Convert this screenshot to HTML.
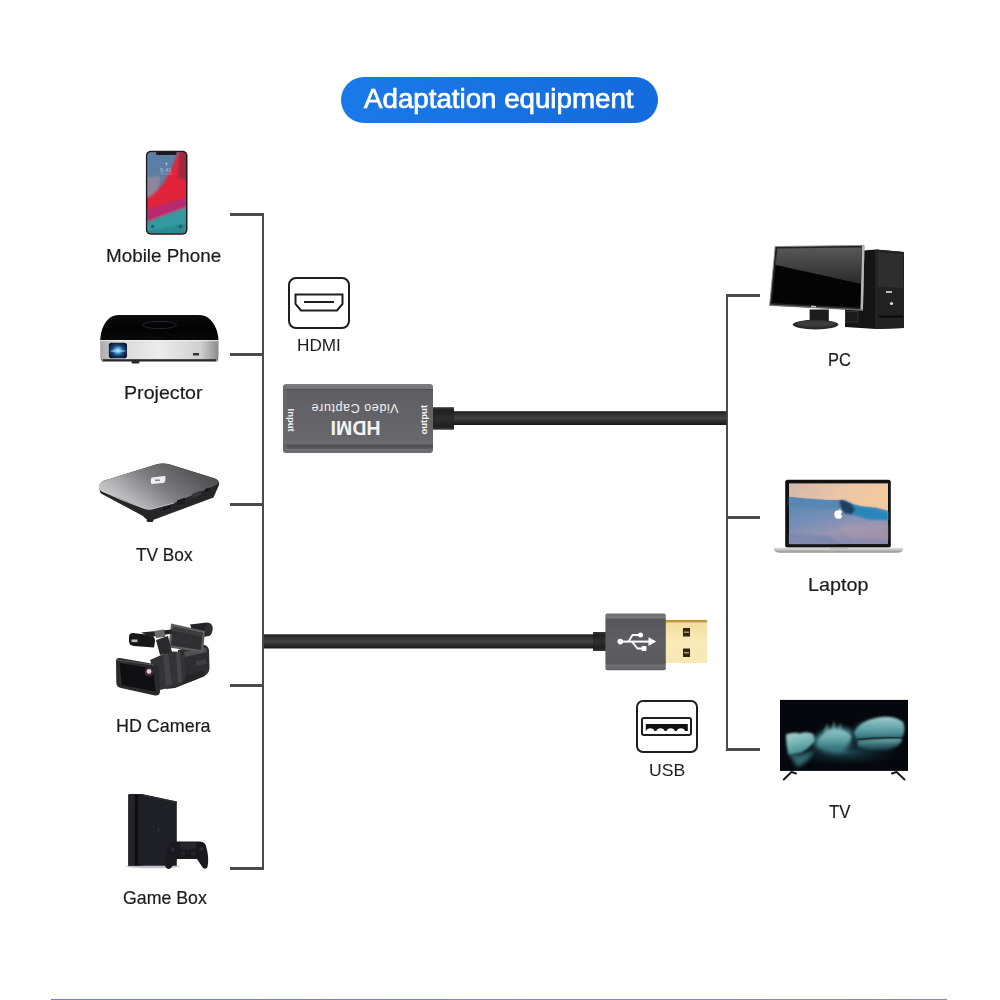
<!DOCTYPE html>
<html><head><meta charset="utf-8">
<style>
html,body{margin:0;padding:0;background:#fff;}
body{width:1000px;height:1000px;position:relative;overflow:hidden;font-family:"Liberation Sans",sans-serif;}
.a{position:absolute;}
.ln{position:absolute;background:#4b4b4b;}
.lbl{position:absolute;color:#1c1c1c;-webkit-text-stroke:0.2px #1c1c1c;font-size:18.5px;line-height:20px;white-space:nowrap;}
svg{position:absolute;overflow:visible;}
</style></head>
<body>
<!-- title pill -->
<div class="a" style="left:341px;top:77px;width:317px;height:46px;border-radius:23px;background:linear-gradient(90deg,#1a79e8,#146bdb);"></div>
<div class="a" id="title" style="-webkit-text-stroke:0.7px #fff;left:364.40px;top:84.00px;color:#fff;font-size:27px;line-height:30px;white-space:nowrap;letter-spacing:0px;transform:scaleX(1.0259);transform-origin:0 0;">Adaptation equipment</div>

<!-- left bracket -->
<div class="ln" style="left:230px;top:213px;width:34px;height:3px;"></div>
<div class="ln" style="left:261.5px;top:213px;width:2.5px;height:657px;"></div>
<div class="ln" style="left:230px;top:353px;width:34px;height:3px;"></div>
<div class="ln" style="left:230px;top:503px;width:34px;height:3px;"></div>
<div class="ln" style="left:230px;top:684px;width:34px;height:3px;"></div>
<div class="ln" style="left:230px;top:867px;width:34px;height:3px;"></div>

<!-- right bracket -->
<div class="ln" style="left:726px;top:294px;width:34px;height:2.5px;"></div>
<div class="ln" style="left:726px;top:294px;width:2.2px;height:457px;"></div>
<div class="ln" style="left:726px;top:516px;width:34px;height:2.5px;"></div>
<div class="ln" style="left:726px;top:748px;width:34px;height:3px;"></div>

<!-- labels -->
<div class="lbl" id="l1" style="left:106.21px;top:245.50px;font-size:19px;transform:scaleX(0.9913);transform-origin:0 0;letter-spacing:0px;">Mobile Phone</div>
<div class="lbl" id="l2" style="left:123.87px;top:382.50px;font-size:19px;transform:scaleX(1.0333);transform-origin:0 0;letter-spacing:0px;">Projector</div>
<div class="lbl" id="l3" style="left:136.40px;top:544.70px;font-size:19px;transform:scaleX(0.9081);transform-origin:0 0;letter-spacing:0px;">TV Box</div>
<div class="lbl" id="l4" style="left:115.96px;top:715.70px;font-size:19px;transform:scaleX(0.9430);transform-origin:0 0;letter-spacing:0px;">HD Camera</div>
<div class="lbl" id="l5" style="left:122.70px;top:887.50px;font-size:19px;transform:scaleX(0.9344);transform-origin:0 0;letter-spacing:0px;">Game Box</div>
<div class="lbl" id="r1" style="left:827.54px;top:350.20px;font-size:19px;transform:scaleX(0.8640);transform-origin:0 0;letter-spacing:0px;">PC</div>
<div class="lbl" id="r2" style="left:808.16px;top:575.00px;font-size:19px;transform:scaleX(1.0386);transform-origin:0 0;letter-spacing:0px;">Laptop</div>
<div class="lbl" id="r3" style="left:828.80px;top:802.40px;font-size:19px;transform:scaleX(0.8833);transform-origin:0 0;letter-spacing:0px;">TV</div>

<!-- HDMI icon -->
<div class="a" style="left:288px;top:277px;width:58px;height:48px;border:2px solid #1e1e1e;border-radius:8px;"></div>
<svg style="left:0;top:0;" width="1000" height="1000">
  <path d="M295.5 294.5 H342.5 V304 L337 310.5 H301 L295.5 304 Z" fill="none" stroke="#1e1e1e" stroke-width="2"/>
  <line x1="304" y1="302" x2="334" y2="302" stroke="#1e1e1e" stroke-width="2"/>
</svg>
<div class="a" id="hdmitxt" style="left:296.50px;top:337.40px;color:#1e1e1e;font-size:17px;line-height:18px;transform:scaleX(1.0093);transform-origin:0 0;letter-spacing:0px;">HDMI</div>

<!-- USB icon -->
<div class="a" style="left:636px;top:700px;width:58px;height:49px;border:2px solid #1e1e1e;border-radius:7px;"></div>
<div class="a" style="left:641px;top:717px;width:47px;height:15px;border:2px solid #1e1e1e;border-radius:3px;"></div>
<svg style="left:0;top:0;" width="1000" height="1000">
  <path d="M645.8 724 H687.8 V731 H685 A4.2 3.6 0 0 0 676.8 731 H674.8 A4.2 3.6 0 0 0 666.6 731 H664.6 A4.2 3.6 0 0 0 656.4 731 H654.4 A4.2 3.6 0 0 0 646.2 731 H645.8 Z" fill="#111"/>
</svg>
<div class="a" id="usbtxt" style="left:648.80px;top:760.50px;color:#1e1e1e;font-size:17px;line-height:19px;transform:scaleX(1.0353);transform-origin:0 0;letter-spacing:0px;">USB</div>



<!-- devices -->
<svg style="left:0;top:0;" width="1000" height="1000">
  <defs>
    <filter id="b1" x="-20%" y="-20%" width="140%" height="140%"><feGaussianBlur stdDeviation="1.2"/></filter>
    <filter id="b2" x="-30%" y="-30%" width="160%" height="160%"><feGaussianBlur stdDeviation="2.2"/></filter>
    <filter id="b05"><feGaussianBlur stdDeviation="0.5"/></filter>
    <clipPath id="phclip"><rect x="147.4" y="152.2" width="38.6" height="81" rx="4"/></clipPath>
    <linearGradient id="phbase" x1="0" y1="0" x2="0" y2="1">
      <stop offset="0" stop-color="#4d7aa2"/>
      <stop offset="0.25" stop-color="#6f84a0"/>
      <stop offset="0.42" stop-color="#b87888"/>
      <stop offset="0.55" stop-color="#e3263a"/>
      <stop offset="0.68" stop-color="#e01e34"/>
      <stop offset="0.78" stop-color="#a83070"/>
      <stop offset="0.86" stop-color="#37989e"/>
      <stop offset="1" stop-color="#2b8790"/>
    </linearGradient>
    <linearGradient id="prtop" x1="0" y1="0" x2="0" y2="1">
      <stop offset="0" stop-color="#0c0c0c"/>
      <stop offset="0.5" stop-color="#020202"/>
      <stop offset="1" stop-color="#0a0a0a"/>
    </linearGradient>
    <linearGradient id="prfront" x1="0" y1="0" x2="1" y2="0">
      <stop offset="0" stop-color="#a9a9a9"/>
      <stop offset="0.15" stop-color="#d8d8d8"/>
      <stop offset="0.5" stop-color="#ececec"/>
      <stop offset="0.85" stop-color="#d0d0d0"/>
      <stop offset="1" stop-color="#8a8a8a"/>
    </linearGradient>
    <radialGradient id="lens" cx="0.5" cy="0.5" r="0.6">
      <stop offset="0" stop-color="#e8f8ff"/>
      <stop offset="0.2" stop-color="#6ac0f0"/>
      <stop offset="0.55" stop-color="#1c4478"/>
      <stop offset="1" stop-color="#0a1020"/>
    </radialGradient>
    <linearGradient id="tbtop" x1="0" y1="0.7" x2="1" y2="0.2">
      <stop offset="0" stop-color="#d0d0d2"/>
      <stop offset="0.2" stop-color="#b4b4b6"/>
      <stop offset="0.5" stop-color="#7c7c7e"/>
      <stop offset="0.8" stop-color="#5a5a5c"/>
      <stop offset="1" stop-color="#48484a"/>
    </linearGradient>
    <linearGradient id="mon" x1="0" y1="0" x2="0" y2="1">
      <stop offset="0" stop-color="#585858"/>
      <stop offset="1" stop-color="#2a2a2a"/>
    </linearGradient>
    <linearGradient id="sky" x1="0" y1="0" x2="0" y2="1">
      <stop offset="0" stop-color="#d8b8a8"/>
      <stop offset="1" stop-color="#f2c9a0"/>
    </linearGradient>
    <linearGradient id="sea" x1="0" y1="0" x2="0" y2="1">
      <stop offset="0" stop-color="#4f86b0"/>
      <stop offset="0.35" stop-color="#6a88a8"/>
      <stop offset="0.7" stop-color="#8c8aa8"/>
      <stop offset="1" stop-color="#7c86a6"/>
    </linearGradient>
    <linearGradient id="lbase" x1="0" y1="0" x2="0" y2="1">
      <stop offset="0" stop-color="#e8e8e8"/>
      <stop offset="1" stop-color="#8e8e8e"/>
    </linearGradient>
  </defs>

  <!-- phone -->
  <rect x="145.9" y="150.7" width="41.6" height="84" rx="5" fill="#1c1a1e"/>
  <g clip-path="url(#phclip)">
    <rect x="147" y="152" width="40" height="82" fill="#e2243a"/>
    <g filter="url(#b1)">
      <path d="M144 148 L180 148 L172 168 L162 185 L150 196 L144 198 Z" fill="#5a7ea4"/>
      <path d="M144 178 L160 176 L158 190 L150 197 L144 199 Z" fill="#9a8a9c" opacity="0.8"/>
      <path d="M180 148 L192 148 L192 180 L178 178 Z" fill="#8e2a3e" opacity="0.85"/>
      <path d="M144 210 L192 196 L192 206 L144 222 Z" fill="#b02a78" opacity="0.85"/>
      <path d="M144 223 L192 205 L192 240 L144 240 Z" fill="#339aa0"/>
      <path d="M144 232 L192 222 L192 240 L144 240 Z" fill="#2a8a92"/>
    </g>
  </g>
  <rect x="156" y="151.5" width="20.6" height="3.4" rx="1.5" fill="#1c1a1e"/>
  <circle cx="166.5" cy="163.8" r="1" fill="#e8e8f0" opacity="0.7"/>
  <text x="160" y="171.5" font-family="Liberation Sans, sans-serif" font-size="6" fill="#e6e6f0" opacity="0.6">9:41</text>
  <rect x="160" y="173.5" width="13" height="0.8" fill="#ddd" opacity="0.4"/>
  <circle cx="152.5" cy="226.5" r="1.8" fill="#1d4a55" opacity="0.7"/>
  <circle cx="180.5" cy="226.5" r="1.8" fill="#1d4a55" opacity="0.7"/>

  <!-- projector -->
  <path d="M100.2 340.5 C100.5 330 105 319.5 112.5 316.2 Q115.5 315 120 315 L198 315 Q202.5 315 205.5 316.2 C213 319.5 218.2 330 218.5 340.5 Z" fill="url(#prtop)"/>
  <ellipse cx="159.5" cy="325" rx="17" ry="3.6" fill="none" stroke="#1f2a32" stroke-width="1"/>
  <path d="M100.2 340 L218.5 340 L218.5 357 Q218.5 360.5 215 360.5 L104 360.5 Q100.2 360.5 100.2 357 Z" fill="url(#prfront)"/>
  <rect x="100.2" y="340" width="118.3" height="1.2" fill="#f4f4f4" opacity="0.7"/>
  <path d="M101 358.8 Q102 361.5 105 361.5 L214 361.5 Q217 361.5 218 358.8 L218 360 Q217 362 214 362 L105 362 Q102 362 101 360 Z" fill="#1e1e1e"/>
  <rect x="103" y="359.2" width="113" height="1.8" fill="#2a2a2a"/>
  <rect x="108.8" y="342.8" width="18.2" height="15.4" rx="2.8" fill="url(#lens)"/>
  <ellipse cx="118" cy="351" rx="8" ry="1.2" fill="#9ee0ff" opacity="0.6" filter="url(#b05)"/>
  <rect x="193" y="353" width="6" height="2.5" fill="#333"/>
  <rect x="131.5" y="361" width="8" height="2.5" rx="1" fill="#2a2a2a"/>

  <!-- tv box -->
  <path d="M99.5 489 Q98 485 103 481 L156 464.5 Q163 462.5 170 464.5 L215 478.5 Q220 481 219 485 L213.5 497.5 L153 520 Q148 522 143 516 L101 493.5 Q99.8 492 99.5 489 Z" fill="#262628"/>
  <path d="M98.8 487.5 Q98.5 484 103 481 L156 464.5 Q163 462.5 170 464.5 L215 478.5 Q220 481 217.5 484.5 L174 503 L152 509 Q148 510 143 508 L102 491.5 Q98.8 490 98.8 487.5 Z" fill="url(#tbtop)"/>
  <path d="M101 490.5 Q120 500 143 508 Q148 510 152 509 L174 503" fill="none" stroke="#d6d6d8" stroke-width="1" opacity="0.8"/>
  <path d="M152 477.5 L164 476 Q166 476 165.5 478 L165 481.5 Q164.5 483 162.5 483 L152.5 484 Q150.5 484 150.8 482 L151 479 Q151 477.6 152 477.5 Z" fill="#efefef"/>
  <rect x="155" y="479.5" width="5" height="1.5" fill="#888"/>
  <path d="M177 500.5 L185 497.5 L185.5 502.5 L177.5 505.5 Z" fill="#1a1a1a"/>
  <path d="M192 494 L201 490.5 L201.5 494.5 L192.5 498 Z" fill="#38383a"/>
  <path d="M205 489 L209 487.5 L209.5 490.5 L205.5 492 Z" fill="#151515"/>
  <path d="M163 508.5 L171 505.5 L171.3 507.3 L163.3 510.3 Z" fill="#101010"/>
  <ellipse cx="150" cy="520.5" rx="3.5" ry="1.6" fill="#222"/>

  <!-- camera -->
  <g>
    <!-- body right -->
    <path d="M178 650 L200 645 Q208 644 209 650 L209.5 668 Q209 674 204 676 L190 682 L176 684 Z" fill="#2e2e30"/>
    <path d="M184 652 L206 647.5 L207 652 L185 657 Z" fill="#505052"/>
    <path d="M196 661 L206 659 L206.5 664 L196.5 666 Z" fill="#444446" opacity="0.8"/>
    <!-- bottom plate -->
    <path d="M168 680 L203 670 L205 676 L175 688 L166 689 Z" fill="#262628"/>
    <!-- lens barrel -->
    <path d="M150 660 L168 652 Q180 650 184 656 L186 676 Q185 684 176 686 L160 690 Z" fill="#333335"/>
    <path d="M163 655 L168 653 L172 684 L166 686 Z" fill="#424244"/>
    <path d="M176 652 L180 651.5 L182 682 L178 683 Z" fill="#4a4a4c" opacity="0.8"/>
    <!-- hood -->
    <path d="M116 661 Q116 657.5 120 658 L154 664 Q158 665 159 668 L160 691 Q160 696 155 695.5 L121 688 Q116.5 687 116.3 683 Z" fill="#2a2a2c"/>
    <path d="M119.5 663 L153 668.5 L155.5 691.5 L122 685 Z" fill="#0f0f11"/>
    <path d="M117 660 L154 665" stroke="#5a5a5c" stroke-width="1"/>
    <circle cx="149" cy="672" r="4.5" fill="#3b2d36"/>
    <circle cx="149" cy="671.5" r="2.4" fill="#e8c8d8" filter="url(#b05)"/>
    <!-- eyepiece -->
    <path d="M190 624.5 L207 622.5 Q213 623 212.5 629 L209 636 L195 638 Z" fill="#222224"/>
    <ellipse cx="208.5" cy="629.5" rx="4" ry="6.5" fill="#2e2e30"/>
    <!-- lcd -->
    <path d="M171 623.5 L205 631 L203 652.5 L168.5 647.5 Z" fill="#5e5e60"/>
    <path d="M173 626.5 L202.5 633 L200.8 650 L171 645.5 Z" fill="#303032"/>
    <path d="M173 626.5 L202.5 633 L202.1 637 L172.6 630.5 Z" fill="#3c3c3e"/>
    <!-- handle -->
    <path d="M133 633 L150 635 Q155 636 155 641 L154 647.5 L134 646 Q129 645.5 129 641 L129 637 Q129 633 133 633 Z" fill="#18181a"/>
    <rect x="131.5" y="639.5" width="6" height="2.6" fill="#b8b8b8"/>
    <path d="M141 632.5 L172 629.5 L173 633.5 L150 637 Z" fill="#222224"/>
    <path d="M154 631 L164 629.5 L165.5 637 L156 638 Z" fill="#6a6a6c"/>
    <path d="M156 640 L168 636 L172 652 L160 655 Z" fill="#2a2a2c"/>
  </g>

  <!-- ps4 -->
  <ellipse cx="153" cy="866.5" rx="27" ry="1.8" fill="#c4c4c8" filter="url(#b05)"/>
  <path d="M129.5 794 L141.5 794 L176.8 801.5 L176.8 865.8 L128.3 865.8 L128.3 795.5 Q128.3 794 129.5 794 Z" fill="#1f1f26"/>
  <rect x="128.3" y="794.5" width="6.5" height="71.3" fill="#24242b"/>
  <rect x="134.8" y="794.5" width="3" height="71.3" fill="#0c0c10"/>
  <rect x="137.8" y="794.5" width="3.6" height="71.3" fill="#1d1d23"/>
  <path d="M141.4 794 L176.8 801.5 L176.8 803 L141.4 795.5 Z" fill="#2e2e36"/>
  <path d="M158 827 L160 828 L158.5 832 L157 831 Z" fill="#2e2e36"/>
  <path d="M169.5 843.5 Q171 841.5 175 841.5 L200 841.5 Q205 841.8 206 846 Q209.5 858 207.5 867 Q206 870 203 868 L197 859 L177 859 L171 868 Q167.5 870.5 165.5 867 Q164 856 169.5 843.5 Z" fill="#19191e"/>
  <rect x="180" y="842.5" width="16" height="7" rx="1.5" fill="#26262d"/>
  <circle cx="173" cy="849.5" r="2.2" fill="#2a2a31"/>
  <circle cx="201.5" cy="849" r="2.2" fill="#2a2a31"/>
  <circle cx="183" cy="853.5" r="2.4" fill="#24242a"/>
  <circle cx="193" cy="853.5" r="2.4" fill="#24242a"/>

  <!-- pc -->
  <path d="M845 252 L876 249.5 L904 252 L904 328 L876 329 L845 327 Z" fill="#151515"/>
  <path d="M876 249.5 L904 252 L904 328 L876 329 Z" fill="#222"/>
  <path d="M878 252 L903 254 L903 288 L878 286.5 Z" fill="#2e2e2e"/>
  <rect x="886" y="291" width="6" height="2" fill="#bbb"/>
  <circle cx="891.5" cy="303.5" r="1.6" fill="#ddd"/>
  <rect x="879" y="315.5" width="24" height="2.2" fill="#0a0a0a"/>
  <path d="M845.5 311.5 L858 311.5 L858 322 L845.5 322 Z" fill="#1a1a1a" stroke="#3a3a3a" stroke-width="0.8"/>
  <path d="M876 250 L876 329" stroke="#333" stroke-width="0.8"/>
  <path d="M775.2 246.5 L864 245.4 L862.4 310.2 L769.6 305.4 Z" fill="#222" stroke="#8a8a8a" stroke-width="0.9"/>
  <path d="M862 245.4 L864.5 245.4 L863 310.2 L860.5 310 Z" fill="#b8b8b8"/>
  <path d="M777.5 248.5 L861.5 247.5 L861 284 L775.5 265 Z" fill="url(#mon)"/>
  <path d="M775.5 265 L861 284 L860 307.5 L772 303 Z" fill="#040404"/>
  <path d="M769.6 305 L862.4 309.8" stroke="#6c6c6c" stroke-width="1"/>
  <rect x="811" y="305.8" width="5" height="1.3" fill="#ccc" transform="rotate(3 813 306.5)"/>
  <rect x="809.6" y="309.5" width="19.2" height="12.5" fill="#1c1c1c"/>
  <ellipse cx="815.6" cy="324.6" rx="22.8" ry="4.8" fill="#2a2a2a"/>
  <ellipse cx="815.6" cy="323.6" rx="20" ry="3" fill="#3c3c3c"/>

  <!-- laptop -->
  <rect x="785.2" y="479.7" width="105.6" height="68" rx="2.5" fill="#111"/>
  <svg x="789" y="483.6" width="99" height="60.5" viewBox="0 0 99 60.5" overflow="hidden">
    <defs>
      <linearGradient id="lsky" x1="0" y1="0" x2="1" y2="0.3">
        <stop offset="0" stop-color="#d4b8ac"/>
        <stop offset="0.6" stop-color="#ecc6a6"/>
        <stop offset="1" stop-color="#f2c89e"/>
      </linearGradient>
      <linearGradient id="lsea" x1="0" y1="0" x2="0.4" y2="1">
        <stop offset="0" stop-color="#4a82b2"/>
        <stop offset="0.35" stop-color="#5e8ab6"/>
        <stop offset="0.65" stop-color="#7c90b6"/>
        <stop offset="0.85" stop-color="#9a96b2"/>
        <stop offset="1" stop-color="#8a8cae"/>
      </linearGradient>
    </defs>
    <rect x="0" y="0" width="99" height="60.5" fill="url(#lsea)"/>
    <path d="M0 0 H99 V27.5 L87.5 24.2 L71 22.6 L62 19.8 L54.5 16.5 L38 16.5 L16 14.9 L0 13.2 Z" fill="url(#lsky)"/>
    <g filter="url(#b1)">
      <path d="M62 20.5 L71 23 L87.5 24.8 L99 28 V37 L80 36 L66 32 L60 27 Z" fill="#2a86ba"/>
      <path d="M50 17 L55 16.8 L62 20 L66 26 L63 31 L56 30 L51 24 Z" fill="#1f3f5e"/>
      <path d="M0 14 L16 15.5 L38 17 L50 17.5 L52 24 L40 26 L20 24 L0 22 Z" fill="#5487b2" opacity="0.8"/>
      <path d="M50 44 L99 41 V56 L62 55 Z" fill="#b49aa8" opacity="0.5"/>
      <path d="M0 50 L40 52 L50 60.5 H0 Z" fill="#6a80aa" opacity="0.5"/>
    </g>
    <path d="M47.5 27.2 Q49.3 26.4 50.2 27 Q51 26.3 52.4 27 Q53.4 27.8 53 28.7 Q51.8 29.3 52 31 Q52.3 32.3 53.2 32.6 Q52.4 35 51 35.2 Q50.2 35.2 49.6 34.8 Q48.8 35.2 48 35.2 Q46.6 35 45.6 32.5 Q44.6 29.4 46 27.8 Q46.6 27.2 47.5 27.2 Z M50 26.6 Q50 25 51.8 24.6 Q51.8 26.3 50 26.6 Z" fill="#fff"/>
  </svg>
  <path d="M774 547.5 L903 547.5 Q903.5 550 902 551.5 Q900 552.8 896 552.8 L781 552.8 Q777 552.8 775.2 551.5 Q773.6 550 774 547.5 Z" fill="url(#lbase)"/>
  <rect x="830" y="547.6" width="18" height="1.4" fill="#aaa" opacity="0.6"/>

  <!-- tv -->
  <rect x="780" y="699.9" width="128" height="71" fill="#04070b"/>
  <svg x="780" y="699.9" width="128" height="71" viewBox="780 699.9 128 71" overflow="hidden">
    <defs>
      <radialGradient id="tvglow" cx="0.5" cy="0.5" r="0.5">
        <stop offset="0" stop-color="#2a6070" stop-opacity="0.9"/>
        <stop offset="1" stop-color="#0a1820" stop-opacity="0"/>
      </radialGradient>
      <linearGradient id="leafA" x1="0" y1="0" x2="0.3" y2="1">
        <stop offset="0" stop-color="#a4d2d0"/>
        <stop offset="0.5" stop-color="#78b6b6"/>
        <stop offset="1" stop-color="#3e8a90"/>
      </linearGradient>
      <linearGradient id="leafB" x1="0" y1="0" x2="0" y2="1">
        <stop offset="0" stop-color="#9ccccc"/>
        <stop offset="0.6" stop-color="#5c9ea2"/>
        <stop offset="1" stop-color="#2e6e78"/>
      </linearGradient>
      <linearGradient id="leafC" x1="0" y1="0" x2="0" y2="1">
        <stop offset="0" stop-color="#78b8b8"/>
        <stop offset="1" stop-color="#1e5060" stop-opacity="0.3"/>
      </linearGradient>
    </defs>
    <ellipse cx="845" cy="752" rx="62" ry="16" fill="url(#tvglow)" opacity="0.85"/>
    <g filter="url(#b2)">
      <path d="M814 738 Q830 720 852 730 Q856 744 842 752 Q824 754 814 746 Z" fill="#4a98a0" opacity="0.75"/>
      <path d="M855 726 Q878 714 903 722 Q906 738 890 748 Q868 752 856 744 Z" fill="#4f9aa0" opacity="0.4"/>
      <path d="M788 752 Q800 758 814 750 Q808 764 797 767 Z" fill="#4a9098" opacity="0.7"/>
    </g>
    <g filter="url(#b1)">
      <path d="M786 734.5 Q793 731.5 800 733.5 Q807 731 813.5 734 L815 740.6 Q810 748 801.8 752.4 L788.6 755 Q786 746 786 734.5 Z" fill="url(#leafA)"/>
      <path d="M818 740 Q825 730 834 729 Q846 729 851 736 Q850 745 838 749 Q825 750 818 745 Z" fill="url(#leafB)" opacity="0.95"/>
      <path d="M823 733 L827 723 L830 731 L834 721 L837 730 L841 723 L842 732 Z" fill="#7ab4b6" opacity="0.55"/>
      <path d="M854 732 Q862 720 876 718 Q892 714 903 722 Q906 731 902 737 Q880 736 856 739 Z" fill="url(#leafB)"/>
      <path d="M858 741 Q876 738.5 902 738.5 Q901 748 886 750 Q868 751 858 746 Z" fill="url(#leafC)"/>
    </g>
    <path d="M857 739.5 Q880 737 903 737.8" stroke="#14262e" stroke-width="1.3" fill="none" opacity="0.85"/>
  </svg>
  <g stroke="#1a1a1a" stroke-width="2" stroke-linecap="round" fill="none">
    <polyline points="783.8,779.5 791.5,772 796,773.5"/>
    <polyline points="892,773.5 896.5,772 904.5,779.5"/>
  </g>
</svg>

<!-- cables & adapters -->
<svg style="left:0;top:0;" width="1000" height="1000">
  <defs>
    <linearGradient id="cab" x1="0" y1="0" x2="0" y2="1">
      <stop offset="0" stop-color="#1b1b1b"/>
      <stop offset="0.2" stop-color="#2e2e2e"/>
      <stop offset="0.5" stop-color="#434343"/>
      <stop offset="0.75" stop-color="#2c2c2c"/>
      <stop offset="1" stop-color="#161616"/>
    </linearGradient>
    <linearGradient id="relief" x1="0" y1="0" x2="0" y2="1">
      <stop offset="0" stop-color="#3a3a3a"/>
      <stop offset="0.15" stop-color="#1f1f1f"/>
      <stop offset="0.5" stop-color="#2e2e2e"/>
      <stop offset="0.85" stop-color="#1f1f1f"/>
      <stop offset="1" stop-color="#383838"/>
    </linearGradient>
    <linearGradient id="adp" x1="0" y1="0" x2="0" y2="1">
      <stop offset="0" stop-color="#7c7c80"/>
      <stop offset="0.065" stop-color="#76767a"/>
      <stop offset="0.075" stop-color="#4e4e52"/>
      <stop offset="0.1" stop-color="#5f5f63"/>
      <stop offset="0.5" stop-color="#646468"/>
      <stop offset="0.82" stop-color="#68686c"/>
      <stop offset="0.86" stop-color="#6f6f73"/>
      <stop offset="0.89" stop-color="#505054"/>
      <stop offset="0.93" stop-color="#58585c"/>
      <stop offset="0.95" stop-color="#707074"/>
      <stop offset="1" stop-color="#6a6a6e"/>
    </linearGradient>
    <linearGradient id="usbh" x1="0" y1="0" x2="0" y2="1">
      <stop offset="0" stop-color="#6e6e72"/>
      <stop offset="0.07" stop-color="#7a7a7e"/>
      <stop offset="0.1" stop-color="#58585c"/>
      <stop offset="0.5" stop-color="#5e5e62"/>
      <stop offset="0.88" stop-color="#5a5a5e"/>
      <stop offset="0.92" stop-color="#737377"/>
      <stop offset="1" stop-color="#5c5c60"/>
    </linearGradient>
    <linearGradient id="gold" x1="0" y1="0" x2="0" y2="1">
      <stop offset="0" stop-color="#b08a30"/>
      <stop offset="0.04" stop-color="#c8a048"/>
      <stop offset="0.08" stop-color="#f4dea0"/>
      <stop offset="0.5" stop-color="#f9eab8"/>
      <stop offset="1" stop-color="#f8e8b4"/>
    </linearGradient>
  </defs>
  <!-- HDMI cable -->
  <rect x="452" y="411.2" width="274.5" height="13.8" fill="url(#cab)"/>
  <rect x="432" y="407.2" width="22" height="22.5" fill="url(#relief)"/>
  <!-- adapter body -->
  <rect x="283" y="384" width="150" height="69" rx="3" fill="url(#adp)"/>
  <rect x="283" y="386" width="4" height="65" fill="#6c6c70" opacity="0.6"/>
  <g fill="#f2f2f2" font-family="Liberation Sans, sans-serif">
    <text x="0" y="0" font-size="12.5" letter-spacing="0.6" transform="translate(398.5,403.5) rotate(180)">Video Capture</text>
    <text x="0" y="0" font-size="19.5" font-weight="bold" transform="translate(380.5,420.6) rotate(180)">HDMI</text>
    <text x="0" y="0" font-size="9.5" font-weight="bold" transform="translate(288,408.5) rotate(90)">Input</text>
    <text x="0" y="0" font-size="9.5" font-weight="bold" transform="translate(427,434.5) rotate(-90)">output</text>
  </g>
  <!-- USB cable -->
  <rect x="263.8" y="634.3" width="330" height="14.2" fill="url(#cab)"/>
  <rect x="593" y="632" width="13" height="19" fill="url(#relief)"/>
  <rect x="665" y="620" width="42" height="43" fill="url(#gold)"/>
  <rect x="605.4" y="613.6" width="60.4" height="56.7" rx="2" fill="url(#usbh)"/>
  <g fill="#2b261c">
    <rect x="683" y="628" width="7" height="8.5"/>
    <rect x="683" y="648.5" width="7" height="8.5"/>
  </g>
  <g fill="#c9a04a">
    <rect x="684" y="631.5" width="5" height="1.4"/>
    <rect x="684" y="652" width="5" height="1.4"/>
  </g>
  <!-- usb symbol -->
  <g fill="#fff" stroke="#fff">
    <circle cx="620.3" cy="641.6" r="2.8" stroke="none"/>
    <line x1="620" y1="641.6" x2="650" y2="641.6" stroke-width="2"/>
    <path d="M648.5 637.2 L656.2 641.6 L648.5 646 Z" stroke="none"/>
    <polyline points="628.5,641.6 632.5,635 638.5,635" fill="none" stroke-width="1.8"/>
    <circle cx="640.5" cy="635" r="2.5" stroke="none"/>
    <polyline points="632,641.6 637.5,648.5 642,648.5" fill="none" stroke-width="1.8"/>
    <rect x="641.6" y="646.1" width="4.8" height="4.8" stroke="none"/>
  </g>
</svg>

<!-- bottom line -->
<div class="a" style="left:51px;top:999px;width:896px;height:1px;background:linear-gradient(90deg,#7a82c4,#8a8aa0);"></div>
</body></html>
